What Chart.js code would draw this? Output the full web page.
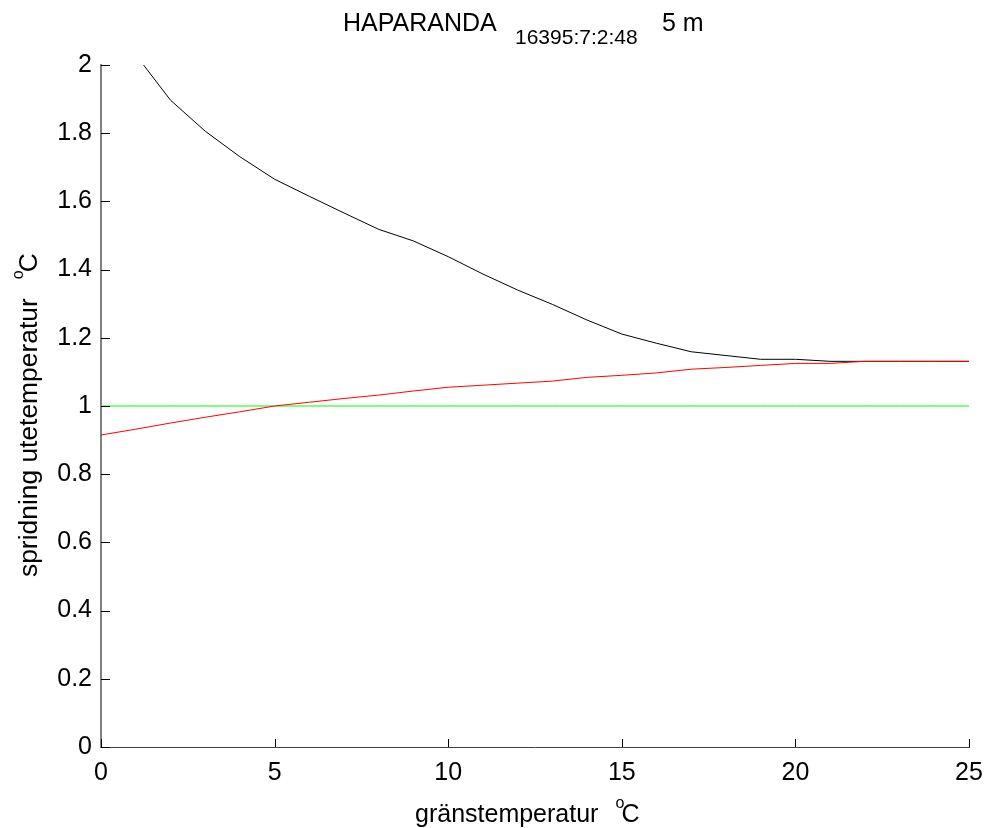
<!DOCTYPE html>
<html>
<head>
<meta charset="utf-8">
<script src="https://cdn.jsdelivr.net/npm/chart.js@4/dist/chart.umd.min.js"></script>
<style>
  html, body { margin: 0; padding: 0; background: #fff; }
  #wrap { width: 988px; height: 828px; position: relative; }
</style>
</head>
<body>
<div id="wrap"><canvas id="c" width="988" height="828"></canvas></div>
<script>
// ---- Data ----
const xValues = [0,1,2,3,4,5,6,7,8,9,10,11,12,13,14,15,16,17,18,19,20,21,22,23,24,25];
const blackSeries = [null,2.03,1.897,1.806,1.731,1.665,1.615,1.566,1.518,1.484,1.438,1.387,1.340,1.298,1.252,1.211,1.184,1.159,1.148,1.137,1.137,1.131,1.131,1.131,1.131,1.131];
const redSeries = [0.915,0.932,0.950,0.967,0.983,1.000,1.011,1.022,1.032,1.044,1.055,1.061,1.067,1.073,1.084,1.090,1.097,1.108,1.113,1.119,1.125,1.125,1.131,1.131,1.131,1.131];
const greenSeries = [1,1,1,1,1,1,1,1,1,1,1,1,1,1,1,1,1,1,1,1,1,1,1,1,1,1];
const xTickValues = [0,5,10,15,20,25];
const yTickValues = [0,0.2,0.4,0.6,0.8,1,1.2,1.4,1.6,1.8,2];
const xTickLabels = ['0','5','10','15','20','25'];
const yTickLabels = ['0','0.2','0.4','0.6','0.8','1','1.2','1.4','1.6','1.8','2'];
const titleMain = 'HAPARANDA';
const titleSub = '16395:7:2:48';
const titleTail = '5 m';
const xLabel = 'gränstemperatur';
const yLabel = 'spridning utetemperatur';
const unitSup = 'o';
const unitBase = 'C';

const FONT = 'Liberation Sans, Arial, sans-serif';
const FS = 25;

function pts(arr) { return xValues.map((x, i) => ({ x: x, y: arr[i] })); }

const decorPlugin = {
  id: 'decor',
  afterDatasetsDraw(chart) {
    const ctx = chart.ctx;
    const ca = chart.chartArea;
    const xs = chart.scales.x, ys = chart.scales.y;
    ctx.save();
    ctx.strokeStyle = '#000';
    ctx.lineWidth = 1;
    ctx.beginPath();
    xTickValues.forEach(v => {
      const px = Math.round(xs.getPixelForValue(v)) + 0.5;
      ctx.moveTo(px, ca.bottom);
      ctx.lineTo(px, ca.bottom - 8);
    });
    yTickValues.forEach(v => {
      const py = Math.round(ys.getPixelForValue(v)) + 0.5;
      ctx.moveTo(ca.left, py);
      ctx.lineTo(ca.left + 9, py);
    });
    ctx.stroke();
    ctx.restore();
  },
  afterDraw(chart) {
    const ctx = chart.ctx;
    ctx.save();
    ctx.fillStyle = '#000';
    ctx.textBaseline = 'alphabetic';
    ctx.textAlign = 'left';
    // title
    ctx.font = FS + 'px ' + FONT;
    ctx.fillText(titleMain, 343, 31);
    ctx.fillText(titleTail, 662, 31);
    ctx.font = '21px ' + FONT;
    ctx.fillText(titleSub, 515, 44);

    // x label
    ctx.font = FS + 'px ' + FONT;
    const wMain = ctx.measureText(xLabel).width;
    const sx = 415;
    ctx.fillText(xLabel, sx, 822);
    ctx.fillText(unitBase, sx + wMain + 23, 822);
    ctx.font = '16px ' + FONT;
    ctx.fillText(unitSup, sx + wMain + 17, 808);

    // y label (rotated)
    ctx.font = '26.4px ' + FONT;
    const wyMain = ctx.measureText(yLabel).width;
    ctx.translate(37, 577);
    ctx.rotate(-Math.PI / 2);
    ctx.fillText(yLabel, 0, 0);
    ctx.fillText(unitBase, wyMain + 26, 0);
    ctx.font = '16px ' + FONT;
    ctx.fillText(unitSup, wyMain + 19, -14);
    ctx.restore();
  }
};

new Chart(document.getElementById('c'), {
  type: 'line',
  data: {
    datasets: [
      { label: 'red', data: pts(redSeries), borderColor: '#ff0000', borderWidth: 1, pointRadius: 0, tension: 0, fill: false, order: 0 },
      { label: 'black', data: pts(blackSeries), borderColor: '#000000', borderWidth: 1, pointRadius: 0, tension: 0, fill: false, order: 1 },
      { label: 'green', data: pts(greenSeries), borderColor: '#00ff00', borderWidth: 1, pointRadius: 0, tension: 0, fill: false, order: 2 }
    ]
  },
  options: {
    responsive: false,
    animation: false,
    events: [],
    layout: { padding: { top: 65, right: 19, left: 0, bottom: 0 } },
    plugins: { legend: { display: false }, title: { display: false }, tooltip: { enabled: false } },
    scales: {
      x: {
        type: 'linear', min: 0, max: 25,
        afterBuildTicks: s => { s.ticks = xTickValues.map(v => ({ value: v })); },
        afterFit: s => { s.height = 81; s.paddingLeft = 0; s.paddingRight = 0; },
        ticks: {
          color: '#000', font: { family: FONT, size: FS }, padding: 11, maxRotation: 0,
          callback: (v) => { const i = xTickValues.indexOf(v); return i >= 0 ? xTickLabels[i] : ''; }
        },
        grid: { display: true, drawOnChartArea: false, drawTicks: false },
        border: { display: true, color: '#404040', width: 1 }
      },
      y: {
        type: 'linear', min: 0, max: 2,
        afterBuildTicks: s => { s.ticks = yTickValues.map(v => ({ value: v })); },
        afterFit: s => { s.width = 101; s.paddingTop = 0; s.paddingBottom = 0; },
        ticks: {
          color: '#000', font: { family: FONT, size: FS }, padding: 9,
          callback: (v) => { const i = yTickValues.findIndex(t => Math.abs(t - v) < 1e-9); return i >= 0 ? yTickLabels[i] : ''; }
        },
        grid: { display: true, drawOnChartArea: false, drawTicks: false },
        border: { display: true, color: '#808080', width: 2 }
      }
    }
  },
  plugins: [decorPlugin]
});
</script>
</body>
</html>
